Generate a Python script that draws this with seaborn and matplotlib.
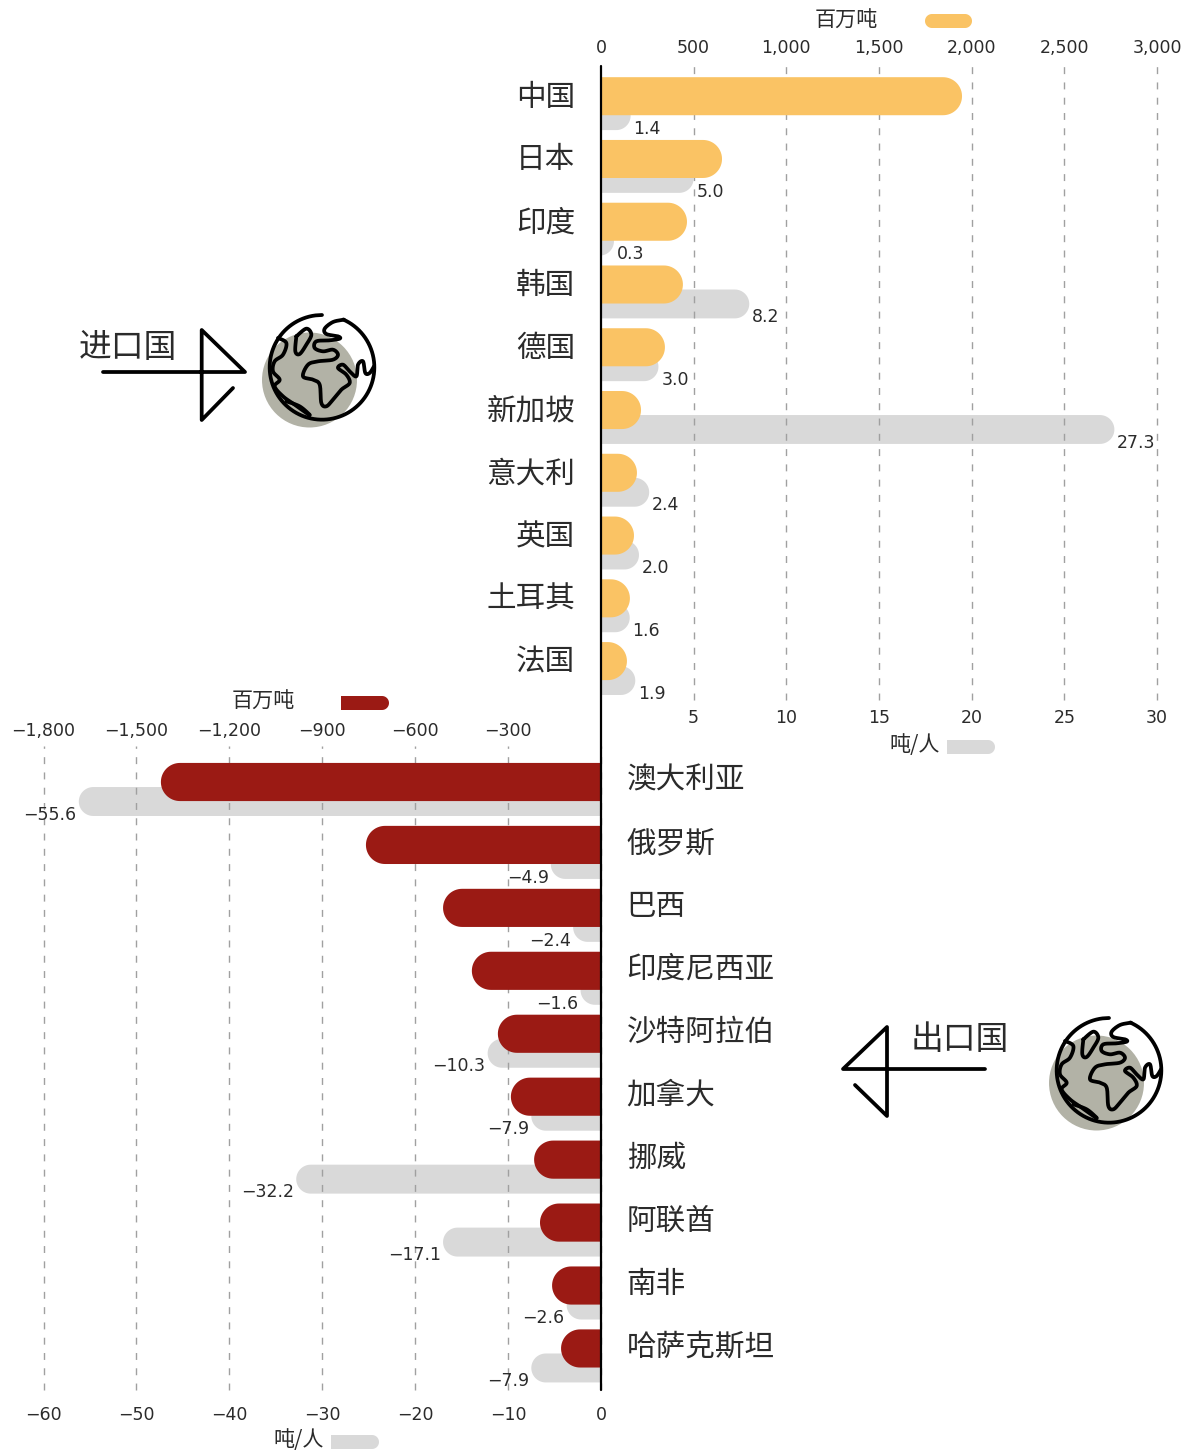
import numpy as np
import seaborn as sns
import matplotlib.pyplot as plt
from matplotlib.lines import Line2D
from matplotlib.patches import Circle, PathPatch, Rectangle
from matplotlib.path import Path
from matplotlib.transforms import IdentityTransform, ScaledTranslation

importers = ['中国', '日本', '印度', '韩国', '德国', '新加坡', '意大利', '英国', '土耳其', '法国']
import_mt = [1948, 653, 464, 442, 345, 216, 194, 178, 156, 140]
import_pc = [1.6, 5.0, 0.7, 8.0, 3.1, 27.7, 2.6, 2.05, 1.55, 1.85]
import_pc_labels = ['1.4', '5.0', '0.3', '8.2', '3.0', '27.3', '2.4', '2.0', '1.6', '1.9']

exporters = ['澳大利亚', '俄罗斯', '巴西', '印度尼西亚', '沙特阿拉伯', '加拿大', '挪威', '阿联酋', '南非', '哈萨克斯坦']
export_mt = [-1421, -759, -510, -417, -333, -291, -216, -197, -158, -129]
export_pc = [-56.2, -5.4, -3.0, -2.2, -12.2, -7.5, -32.8, -17.0, -3.7, -7.5]
export_pc_labels = ['−55.6', '−4.9', '−2.4', '−1.6', '−10.3', '−7.9', '−32.2', '−17.1', '−2.6', '−7.9']

import_mt_ticks = [0, 500, 1000, 1500, 2000, 2500, 3000]
import_pc_ticks = [5, 10, 15, 20, 25, 30]
export_mt_ticks = [-1800, -1500, -1200, -900, -600, -300]
export_pc_ticks = [-60, -50, -40, -30, -20, -10, 0]

GOLD = '#fac364'
RED = '#9b1a14'
GREY = '#d9d9d9'
OLIVE = '#b2b2a6'
TEXT = '#2b2b2b'
W, H = 1195, 1452

sns.set_theme(style='white')
plt.rcParams['font.family'] = ['Noto Sans CJK SC', 'DejaVu Sans']


def fmt(v):
    return f'{v:,}'.replace('-', '\u2212')


def new_axes(x0, x1, top, bottom):
    return plt.gcf().add_axes([x0 / W, 1 - bottom / H, (x1 - x0) / W, (bottom - top) / H])


def pill_path(x0, x1, y0, y1):
    r = (y1 - y0) / 2
    ym = (y0 + y1) / 2
    th = np.linspace(-np.pi / 2, np.pi / 2, 32)
    right = np.column_stack([x1 - r + r * np.cos(th), ym + r * np.sin(th)])
    left = np.column_stack([x0 + r - r * np.cos(th), ym - r * np.sin(th)])
    verts = np.vstack([right, left[::-1][::-1], right[:1]])
    return Path(verts, closed=True)


def round_bars(ax, shift=0.0):
    # swap the seaborn rectangles for pills, the flat end is clipped at the axis
    for b in list(ax.patches):
        b.set_y(b.get_y() + shift)
        e = b.get_window_extent()
        b.set_visible(False)
        left = e.x0 - e.height if ax.get_xlim()[0] == 0 else e.x0
        right = e.x1 + e.height if ax.get_xlim()[1] == 0 else e.x1
        ax.add_patch(PathPatch(pill_path(left, right, e.y0, e.y1), fc=b.get_facecolor(), ec='none',
                               transform=IdentityTransform(), zorder=1))


def style_pair(ax_pc, ax_mt, xlim_pc, xlim_mt, ylim):
    ax_pc.set_xlim(xlim_pc)
    ax_mt.set_xlim(xlim_mt)
    ax_pc.set_ylim(ylim)
    for a in (ax_pc, ax_mt):
        sns.despine(ax=a, left=True, bottom=True, right=True, top=True)
        a.set_xlabel('')
        a.set_ylabel('')
    ax_mt.patch.set_visible(False)
    ax_pc.set_axisbelow(False)


def add_grid(ax, ticks):
    for t in ticks:
        ax.axvline(t, color='#a0a0a0', lw=1, ls=(0, (5, 6)), zorder=2, clip_on=False)


def gray_labels(ax, values, labels, shift):
    for i, (v, s) in enumerate(zip(values, labels)):
        pos = v > 0
        ax.annotate(s, (v, i + shift), xytext=(2 if pos else -1.5, -9.5),
                    textcoords='offset points', ha='left' if pos else 'right', va='center',
                    fontsize=12.5, family='DejaVu Sans', color=TEXT, zorder=5)


def lift_labels(ax, pixels):
    shift = ScaledTranslation(0, pixels / 100, plt.gcf().dpi_scale_trans)
    for t in ax.get_yticklabels():
        t.set_transform(t.get_transform() + shift)


def catmull(points, n=12):
    p = np.array(points, dtype=float)
    p = np.vstack([p[0], p, p[-1]])
    out = []
    for a, b, c, d in zip(p[:-3], p[1:-2], p[2:-1], p[3:]):
        for t in np.linspace(0, 1, n, endpoint=False):
            out.append(0.5 * (2 * b + (c - a) * t + (2 * a - 5 * b + 4 * c - d) * t ** 2
                              + (3 * b - a - 3 * c + d) * t ** 3))
    out.append(p[-2])
    return np.array(out)


def stroke(points, lw=2.7, smooth=False):
    pts = catmull(points) if smooth else np.array(points, dtype=float)
    plt.gcf().add_artist(Line2D(pts[:, 0], H - pts[:, 1], color='black', lw=lw,
                                solid_capstyle='round', solid_joinstyle='round',
                                transform=IdentityTransform(), zorder=6))


def globe(dx, dy):
    # icon traced at the upper position, moved for the lower one
    def z(points):
        return [(258 + x / 3 + dx, 308 + y / 3 + dy) for x, y in points]

    plt.gcf().add_artist(Circle((309.5 + dx, H - 380 - dy), 47.5, fc=OLIVE, ec='none',
                                transform=IdentityTransform(), zorder=5))
    ang = np.radians(np.arange(90, 90 + 337, 6))
    stroke(z([(192 + 157 * np.cos(a), 178 - 157 * np.sin(a)) for a in ang]), smooth=True)
    stroke(z([(258, 35), (225, 42), (200, 62), (205, 78), (240, 85), (245, 92), (215, 97),
              (175, 100), (170, 120), (195, 130), (225, 125), (240, 140), (225, 155), (180, 160),
              (150, 170), (135, 205), (165, 215), (185, 230), (190, 285), (205, 295), (225, 275),
              (250, 245), (275, 225), (265, 200), (240, 180), (255, 170), (275, 190), (295, 205),
              (300, 170), (315, 160), (322, 195), (335, 195), (348, 175)]), smooth=True)
    stroke(z([(115, 85), (145, 62), (160, 80), (145, 110), (125, 138), (112, 130), (115, 85)]), smooth=True)
    stroke(z([(60, 90), (85, 105), (75, 140), (50, 160), (45, 190), (65, 215), (50, 235),
              (75, 265), (110, 290), (155, 322)]), smooth=True)
    stroke(z([(85, 280), (125, 295), (155, 320)]), smooth=True)


def legend_pill(x0, x1, y0, y1, color, flat_left=False):
    fig = plt.gcf()
    fig.add_artist(PathPatch(pill_path(x0, x1, H - y1, H - y0), fc=color, ec='none',
                             transform=IdentityTransform()))
    if flat_left:
        fig.add_artist(Rectangle((x0, H - y1), (y1 - y0) / 2, y1 - y0, fc=color, ec='none',
                                 transform=IdentityTransform()))


def label(x, y, s, size=15.2, ha='center'):
    plt.gcf().text(x / W, 1 - y / H, s, fontsize=size, ha=ha, va='center', color=TEXT)


fig = plt.figure(figsize=(W / 100, H / 100), dpi=100, facecolor='white')

# importers
ax_pc = new_axes(601, 1157, 62, 700)
ax_mt = ax_pc.twiny()
sns.barplot(x=import_pc, y=importers, color=GREY, saturation=1, width=0.46, ax=ax_pc)
sns.barplot(x=import_mt, y=importers, color=GOLD, saturation=1, width=0.606, ax=ax_mt)
style_pair(ax_pc, ax_mt, (0, 30), (0, 3000), (9.62, -0.545))
round_bars(ax_pc, 0.31)
round_bars(ax_mt)
gray_labels(ax_pc, import_pc, import_pc_labels, 0.31)
add_grid(ax_pc, import_pc_ticks)
ax_mt.set_xticks(import_mt_ticks, [fmt(t) for t in import_mt_ticks])
ax_pc.set_xticks(import_pc_ticks, [fmt(t) for t in import_pc_ticks])
ax_mt.tick_params(axis='x', length=0, pad=3.5, labelsize=12.5, labelcolor=TEXT, labelfontfamily='DejaVu Sans')
ax_pc.tick_params(axis='x', length=0, pad=6.5, labelsize=12.5, labelcolor=TEXT, labelfontfamily='DejaVu Sans')
ax_pc.tick_params(axis='y', length=0, pad=18.5, labelsize=21.3, labelcolor=TEXT)
lift_labels(ax_pc, 2.5)
ax_mt.grid(False)

# exporters
ax_pc2 = new_axes(43.5, 601, 746, 1390)
ax_mt2 = ax_pc2.twiny()
sns.barplot(x=export_pc, y=exporters, color=GREY, saturation=1, width=0.46, ax=ax_pc2)
sns.barplot(x=export_mt, y=exporters, color=RED, saturation=1, width=0.606, ax=ax_mt2)
style_pair(ax_pc2, ax_mt2, (-60, 0), (-1800, 0), (9.66, -0.572))
round_bars(ax_pc2, 0.31)
round_bars(ax_mt2)
gray_labels(ax_pc2, export_pc, export_pc_labels, 0.31)
add_grid(ax_pc2, export_pc_ticks)
ax_mt2.set_xticks(export_mt_ticks, [fmt(t) for t in export_mt_ticks])
ax_pc2.set_xticks(export_pc_ticks, [fmt(t) for t in export_pc_ticks])
ax_mt2.tick_params(axis='x', length=0, pad=4.5, labelsize=12.5, labelcolor=TEXT, labelfontfamily='DejaVu Sans')
ax_pc2.tick_params(axis='x', length=0, pad=11.7, labelsize=12.5, labelcolor=TEXT, labelfontfamily='DejaVu Sans')
ax_pc2.yaxis.tick_right()
ax_pc2.tick_params(axis='y', length=0, pad=18.5, labelsize=21.3, labelcolor=TEXT, labelleft=False, labelright=True)
lift_labels(ax_pc2, 5)
ax_mt2.grid(False)

# centre axis line
fig.add_artist(Line2D([601, 601], [H - 66, H - 1390], color='black', lw=1.6,
                      transform=IdentityTransform(), zorder=7))

# legends
label(846, 21, '百万吨')
legend_pill(925, 972, 14, 28, GOLD)
label(263, 702, '百万吨')
legend_pill(341, 389, 696, 710, RED, flat_left=True)
label(915, 745, '吨/人')
legend_pill(947, 995, 740, 754, GREY, flat_left=True)
label(299, 1440, '吨/人')
legend_pill(331, 379, 1435, 1449, GREY, flat_left=True)

# side captions with arrows and globes
label(128, 348, '进口国', size=23.6)
stroke([(103, 372), (245, 372), (201.7, 330), (201.7, 420), (233, 388)])
globe(0, 0)
label(960, 1040, '出口国', size=23.6)
stroke([(985, 1069), (843, 1069), (887, 1027), (887, 1116), (855, 1085)])
globe(787, 703)

fig.savefig('out.png', dpi=100)
